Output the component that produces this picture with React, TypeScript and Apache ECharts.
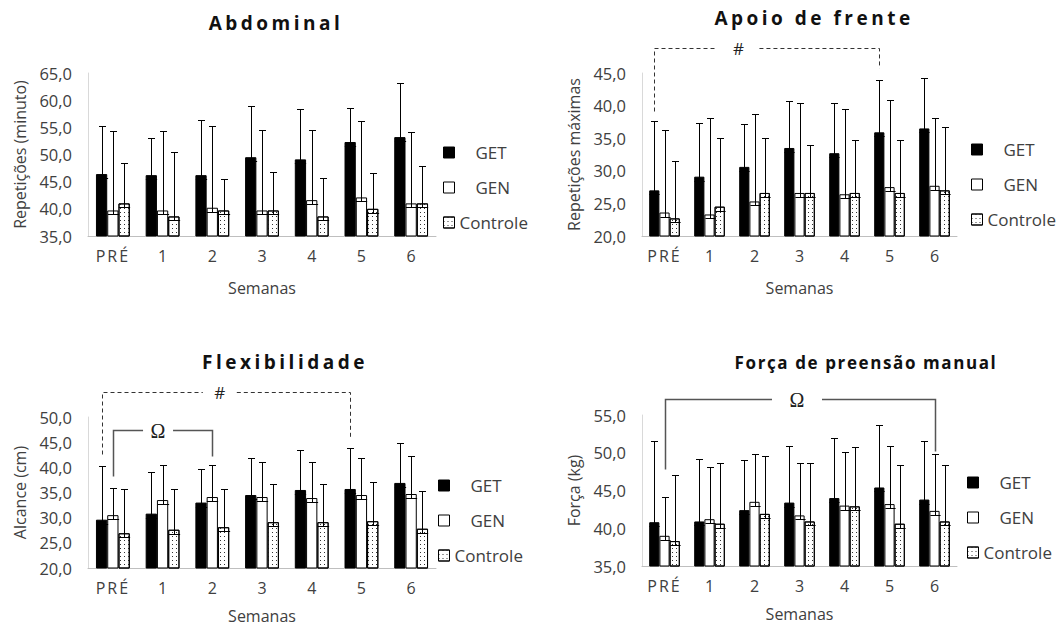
import React, { useEffect, useRef } from "react";
import * as echarts from "echarts";

const categories = ["PRÉ", "1", "2", "3", "4", "5", "6"];
const groupNames = ["GET", "GEN", "Controle"];

// Abdominal
const abdGET = [46.4, 46.2, 46.2, 49.5, 49.1, 52.3, 53.2];
const abdGEN = [39.7, 39.7, 40.2, 39.7, 41.6, 42.1, 41.0];
const abdCTRL = [41.0, 38.6, 39.7, 39.7, 38.6, 40.0, 41.0];
const abdGETsd = [8.8, 6.8, 10.2, 9.5, 9.3, 6.3, 10.0];
const abdGENsd = [14.7, 14.6, 15.0, 14.8, 12.9, 14.0, 13.1];
const abdCTRLsd = [7.4, 11.9, 5.7, 7.1, 7.1, 6.6, 6.8];

// Apoio de frente
const apoGET = [27.0, 29.1, 30.6, 33.5, 32.7, 35.9, 36.5];
const apoGEN = [23.6, 23.3, 25.3, 26.6, 26.4, 27.5, 27.7];
const apoCTRL = [22.7, 24.5, 26.6, 26.6, 26.6, 26.6, 27.0];
const apoGETsd = [10.6, 8.3, 6.6, 7.2, 7.7, 8.1, 7.7];
const apoGENsd = [12.7, 14.8, 13.4, 13.8, 13.1, 13.4, 10.4];
const apoCTRLsd = [8.8, 10.5, 8.5, 7.4, 8.1, 8.1, 9.7];

// Flexibilidade
const flxGET = [29.6, 30.8, 33.0, 34.5, 35.5, 35.7, 36.9];
const flxGEN = [30.5, 33.5, 34.1, 34.1, 33.9, 34.5, 34.7];
const flxCTRL = [26.9, 27.6, 28.1, 29.1, 29.1, 29.3, 27.8];
const flxGETsd = [10.7, 8.2, 6.6, 7.4, 8.0, 8.2, 7.9];
const flxGENsd = [5.4, 7.0, 6.4, 6.9, 7.1, 7.4, 7.5];
const flxCTRLsd = [8.8, 8.1, 7.6, 7.6, 7.6, 7.8, 7.5];

// Força de preensão manual
const forGET = [40.8, 40.9, 42.4, 43.4, 44.0, 45.4, 43.8];
const forGEN = [39.0, 41.2, 43.5, 41.7, 43.0, 43.2, 42.3];
const forCTRL = [38.3, 40.6, 41.9, 40.9, 42.9, 40.6, 40.9];
const forGETsd = [10.7, 8.3, 6.7, 7.5, 8.0, 8.3, 7.7];
const forGENsd = [5.2, 6.9, 6.3, 6.9, 7.1, 7.7, 7.5];
const forCTRLsd = [8.8, 8.0, 7.7, 7.8, 7.8, 7.8, 7.5];

const titles = ["Abdominal", "Apoio de frente", "Flexibilidade", "Força de preensão manual"];
const yNames = ["Repetições (minuto)", "Repetições máximas", "Alcance (cm)", "Força (kg)"];
const yMins = [35, 20, 20, 35];
const yMaxs = [65, 45, 50, 55];

// significance brackets: from/to = [category, bar index in group, value]
const marks = [
  [],
  [{ from: [0, 0, 39.1], to: [5, 0, 45.7], top: 48.8, label: "#", at: 0.373, gap: 21, dashed: true }],
  [
    { from: [0, 0, 42.6], to: [5, 0, 45.9], top: 54.9, label: "#", at: 0.473, gap: 17, dashed: true },
    { from: [0, 1, 38.3], to: [2, 1, 42.3], top: 47.4, label: "Ω", at: 0.45, gap: 15, dashed: false },
  ],
  [{ from: [0, 1, 47.8], to: [6, 1, 50.2], top: 57.1, label: "Ω", at: 0.487, gap: 25, dashed: false }],
];

const means = [
  [abdGET, abdGEN, abdCTRL],
  [apoGET, apoGEN, apoCTRL],
  [flxGET, flxGEN, flxCTRL],
  [forGET, forGEN, forCTRL],
];
const sds = [
  [abdGETsd, abdGENsd, abdCTRLsd],
  [apoGETsd, apoGENsd, apoCTRLsd],
  [flxGETsd, flxGENsd, flxCTRLsd],
  [forGETsd, forGENsd, forCTRLsd],
];

const FONT = "'Open Sans', 'Liberation Sans', sans-serif";
const GAP = 0.32;
const grids = [
  { left: 88, top: 73, width: 348, height: 163 },
  { left: 642, top: 73, width: 315, height: 163 },
  { left: 88, top: 417, width: 348, height: 151 },
  { left: 642, top: 415, width: 315, height: 151 },
];
const titlePos = [[276, 23], [814, 18], [285, 362], [866, 362]];
const titleSize = [19, 19, 19, 17];
const titleSpacing = ["3.5", "3.5", "3.5", "1.6"];
const legendPos = [[438, 139], [966, 136], [433, 472], [962, 469]];
const xNameGap = [44, 44, 40, 40];

const barStyles = [
  { color: "#000", borderColor: "#000", borderWidth: 1 },
  { color: "#fff", borderColor: "#000", borderWidth: 1 },
  {
    color: "#fff",
    borderColor: "#000",
    borderWidth: 1,
    decal: {
      symbol: "rect",
      symbolSize: 1,
      color: "#333",
      dashArrayX: [1, 3],
      dashArrayY: [1, 3],
    },
  },
];

function errorRenderer(params: any, api: any) {
  const cat = api.value(0);
  const mean = api.value(1);
  const sd = api.value(2);
  const k = api.value(3);
  const band = api.size([1, 0])[0];
  const w = (band * (1 - GAP)) / 3;
  const c = api.coord([cat, mean]);
  const cx = Math.round(c[0] + (k - 1) * w) + 0.5;
  const yIn = Math.round(c[1] + 4) + 0.5;
  const yTop = Math.round(api.coord([cat, mean + sd])[1]) + 0.5;
  const st = { stroke: "#000", lineWidth: 1, fill: "none" };
  return {
    type: "group",
    children: [
      { type: "line", shape: { x1: cx, y1: yIn, x2: cx, y2: yTop }, style: st },
      { type: "line", shape: { x1: cx - 3.5, y1: yTop, x2: cx + 3.5, y2: yTop }, style: st },
      { type: "line", shape: { x1: cx - w / 2, y1: yIn, x2: cx + w / 2, y2: yIn }, style: st },
    ],
  };
}

function markRenderer(mark: any) {
  return (params: any, api: any) => {
    const band = api.size([1, 0])[0];
    const w = (band * (1 - GAP)) / 3;
    const px = (cat: number, k: number, v: number) => {
      const p = api.coord([cat, v]);
      return [Math.round(p[0] + (k - 1) * w) + 0.5, Math.round(p[1]) + 0.5];
    };
    const a = px(mark.from[0], mark.from[1], mark.from[2]);
    const b = px(mark.to[0], mark.to[1], mark.to[2]);
    const yT = Math.round(api.coord([0, mark.top])[1]) + 0.5;
    const xm = a[0] + (b[0] - a[0]) * mark.at;
    const st = mark.dashed
      ? { stroke: "#333", lineWidth: 1, lineDash: [4, 3], fill: "none" }
      : { stroke: "#555", lineWidth: 1.5, fill: "none" };
    return {
      type: "group",
      children: [
        { type: "polyline", shape: { points: [a, [a[0], yT], [xm - mark.gap, yT]] }, style: st },
        { type: "polyline", shape: { points: [[xm + mark.gap, yT], [b[0], yT], b] }, style: st },
        {
          type: "text",
          x: xm,
          y: yT,
          style: {
            text: mark.label,
            fill: "#222",
            fontSize: mark.label === "Ω" ? 20 : 17,
            fontFamily: mark.label === "Ω" ? "'Liberation Serif', serif" : FONT,
            align: "center",
            verticalAlign: "middle",
            textAlign: "center",
            textVerticalAlign: "middle",
          },
        },
      ],
    };
  };
}

function buildOption() {
  const series: any[] = [];
  const xAxis: any[] = [];
  const yAxis: any[] = [];
  const legend: any[] = [];
  const graphic: any[] = [];
  for (let p = 0; p < 4; p++) {
    xAxis.push({
      type: "category",
      gridIndex: p,
      data: categories,
      axisLine: { lineStyle: { color: "#bfbfbf", width: 1 } },
      axisTick: { show: false },
      axisLabel: { color: "#404040", fontSize: 16, fontFamily: FONT, margin: 12, interval: 0 },
      name: "Semanas",
      nameLocation: "middle",
      nameGap: xNameGap[p],
      nameTextStyle: { color: "#404040", fontSize: 16, fontFamily: FONT },
    });
    yAxis.push({
      type: "value",
      gridIndex: p,
      min: yMins[p],
      max: yMaxs[p],
      interval: 5,
      axisLine: { show: true, lineStyle: { color: "#d9d9d9" } },
      axisTick: { show: false },
      splitLine: { show: false },
      axisLabel: {
        color: "#404040",
        fontSize: 16.5,
        fontFamily: FONT,
        margin: 16,
        formatter: (v: number) => v.toFixed(1).replace(".", ","),
      },
      name: yNames[p],
      nameLocation: "middle",
      nameGap: 60,
      nameTextStyle: { color: "#404040", fontSize: 16, fontFamily: FONT },
    });
    for (let g = 0; g < 3; g++) {
      series.push({
        type: "bar",
        name: groupNames[g],
        xAxisIndex: p,
        yAxisIndex: p,
        data: means[p][g],
        barGap: "0%",
        barCategoryGap: GAP * 100 + "%",
        itemStyle: barStyles[g],
        z: 2,
      });
    }
    const errData: number[][] = [];
    for (let g = 0; g < 3; g++) {
      for (let c = 0; c < categories.length; c++) {
        errData.push([c, means[p][g][c], sds[p][g][c], g]);
      }
    }
    series.push({
      type: "custom",
      xAxisIndex: p,
      yAxisIndex: p,
      data: errData,
      renderItem: errorRenderer,
      z: 3,
      silent: true,
      clip: false,
    });
    marks[p].forEach((m) => {
      series.push({
        type: "custom",
        xAxisIndex: p,
        yAxisIndex: p,
        data: [[0, yMins[p]]],
        renderItem: markRenderer(m),
        z: 4,
        silent: true,
        clip: false,
      });
    });
    legend.push({
      orient: "vertical",
      left: legendPos[p][0],
      top: legendPos[p][1],
      itemWidth: 11,
      itemHeight: 11,
      itemGap: 18,
      icon: "rect",
      selectedMode: false,
      itemStyle: { borderWidth: 1, borderColor: "#000" },
      textStyle: { color: "#404040", fontSize: 17, fontFamily: FONT },
      data: [
        { name: "GET", textStyle: { padding: [0, 0, 0, 16] } },
        { name: "GEN", textStyle: { padding: [0, 0, 0, 16] } },
        { name: "Controle" },
      ],
    });
    graphic.push({
      type: "text",
      x: titlePos[p][0],
      y: titlePos[p][1],
      style: {
        text: titles[p],
        fill: "#111",
        fontSize: titleSize[p],
        fontWeight: "bold",
        fontFamily: FONT,
        align: "center",
        verticalAlign: "middle",
        textAlign: "center",
        textVerticalAlign: "middle",
      },
    });
  }
  return {
    animation: false,
    backgroundColor: "#fff",
    grid: grids.map((g) => ({ ...g, containLabel: false })),
    xAxis,
    yAxis,
    legend,
    graphic,
    series,
  };
}

export default function App() {
  const ref = useRef<HTMLDivElement>(null);
  useEffect(() => {
    if (!ref.current) return;
    const chart = echarts.init(ref.current, null, { renderer: "svg" });
    chart.setOption(buildOption() as any);
    const applySpacing = () => {
      const root = ref.current;
      if (!root) return;
      root.querySelectorAll("text").forEach((t) => {
        const s = t.textContent || "";
        const i = titles.indexOf(s);
        if (i >= 0) t.setAttribute("letter-spacing", titleSpacing[i]);
        else if (s === "PRÉ") t.setAttribute("letter-spacing", "2");
      });
    };
    chart.on("finished", applySpacing);
    const timer = setTimeout(applySpacing, 50);
    return () => {
      clearTimeout(timer);
      chart.dispose();
    };
  }, []);
  return (
    <div
      ref={ref}
      style={{ position: "absolute", left: 0, top: 0, width: 1056, height: 629, background: "#fff" }}
    />
  );
}
